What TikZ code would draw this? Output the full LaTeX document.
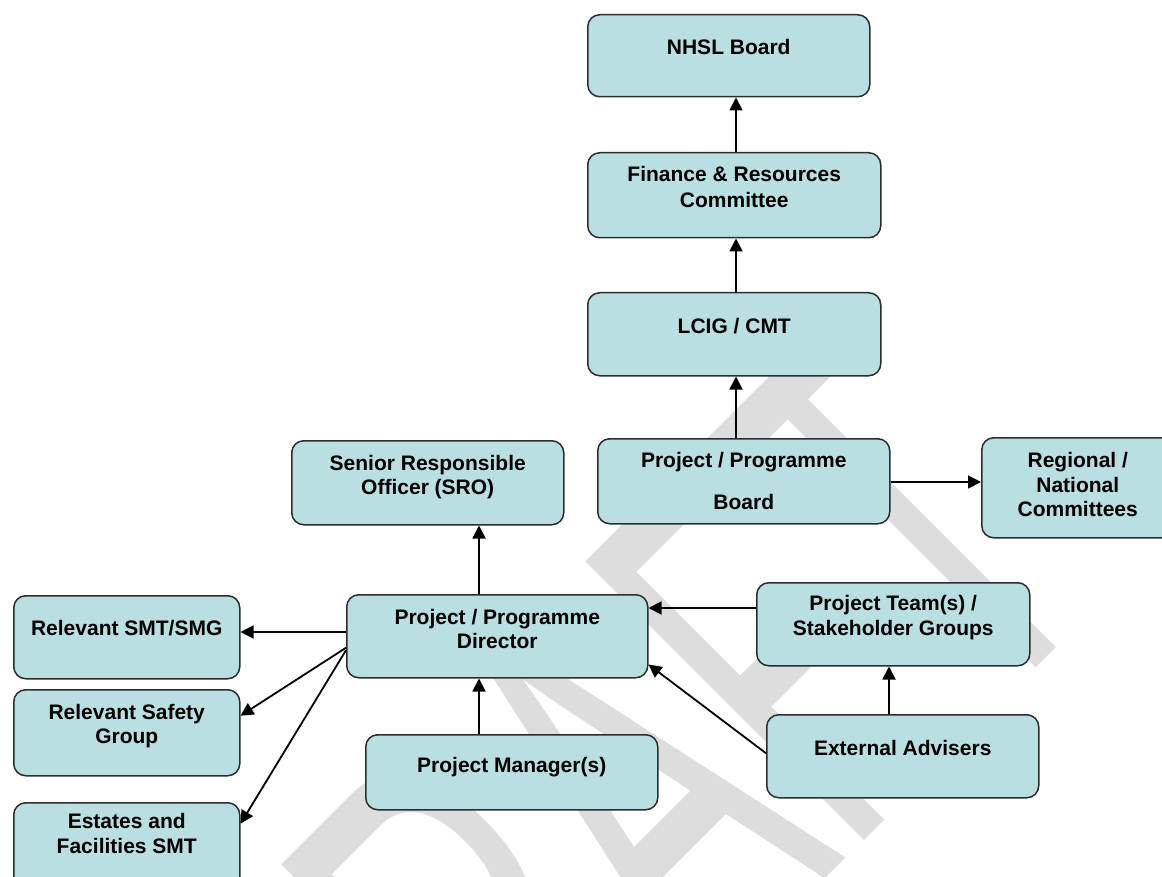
\documentclass[tikz,border=0pt]{standalone}
\usepackage{fontspec}
\setmainfont{Liberation Sans}
\usepackage{graphicx}
\usetikzlibrary{arrows.meta}

\definecolor{boxfill}{RGB}{186,223,226}
\definecolor{boxline}{RGB}{45,45,45}
\definecolor{wmark}{RGB}{221,221,221}

% text block of a card: width, height, space above the first line, lines
\newcommand{\cardtext}[4]{\parbox[c][#2][t]{#1}{\centering\vspace*{#3}#4\par}}

\begin{document}
\begin{tikzpicture}[x=1pt,y=-1pt,
  card/.style={draw=boxline, fill=boxfill, line width=1.5pt, rounded corners=12pt,
    inner sep=0pt, anchor=north west,
    font=\fontsize{21pt}{24.5pt}\bfseries\selectfont},
  link/.style={draw=black, line width=1.8pt, -{Triangle[length=13pt,width=13pt]}}]

\useasboundingbox (0,0) rectangle (1162,877);
\begin{scope}
\clip (0,0) rectangle (1162,877);
\fill[white] (0,0) rectangle (1162,877);

% background watermark
\node[anchor=base west, inner sep=0pt, rotate=45, text=wmark,
      font=\fontsize{573pt}{573pt}\selectfont] (watermark) at (384,1320)
      {\scalebox{0.54}[1]{DRAFT}};

% governance chain
\node[card] (nhsl) at (587,14) {\cardtext{282pt}{82pt}{24.8pt}{NHSL Board}};
\node[card] (fr) at (587,152) {\cardtext{293pt}{85pt}{13.8pt}{Finance \& Resources\\[1.5pt]Committee}};
\node[card] (lcig) at (587,292) {\cardtext{293pt}{83pt}{25.8pt}{LCIG / CMT}};
\node[card] (ppb) at (597,438) {\cardtext{292pt}{85pt}{13.8pt}{Project / Programme\\[17.5pt]Board}};
\node[card] (regional) at (981,437) {\cardtext{192pt}{100pt}{14.8pt}{Regional /\\National\\Committees}};

% project level
\node[card] (sro) at (291,440) {\cardtext{272pt}{84pt}{14.8pt}{Senior Responsible\\[-1pt]Officer (SRO)}};
\node[card] (ppd) at (346,594) {\cardtext{301pt}{83pt}{14.8pt}{Project / Programme\\[-0.5pt]Director}};
\node[card] (pm) at (365,734) {\cardtext{292pt}{75pt}{22.8pt}{Project Manager(s)}};
\node[card] (pt) at (756,582) {\cardtext{273pt}{83pt}{12.8pt}{Project Team(s) /\\[0.5pt]Stakeholder Groups}};
\node[card] (ea) at (766,714) {\cardtext{272pt}{83pt}{25.8pt}{External Advisers}};

% groups reported to by the director
\node[card] (smt) at (13,595) {\cardtext{226pt}{83pt}{24.8pt}{Relevant SMT/SMG}};
\node[card] (safety) at (13,689) {\cardtext{226pt}{86pt}{14.8pt}{Relevant Safety\\[-0.5pt]Group}};
\node[card] (estates) at (13,802) {\cardtext{226pt}{92pt}{10.8pt}{Estates and\\[0.5pt]Facilities SMT}};

% connector columns and rows
\coordinate (colA) at (736,0);
\coordinate (colC) at (479,0);
\coordinate (colE) at (889,0);
\coordinate (rowB) at (0,482);
\coordinate (rowD) at (0,608);
\coordinate (rowF) at (0,632);

\draw[link] (fr.north -| colA) -- (nhsl.south -| colA);
\draw[link] (lcig.north -| colA) -- (fr.south -| colA);
\draw[link] (ppb.north -| colA) -- (lcig.south -| colA);
\draw[link] (ppb.east |- rowB) -- (regional.west |- rowB);
\draw[link] (ppd.north -| colC) -- (sro.south -| colC);
\draw[link] (pm.north -| colC) -- (ppd.south -| colC);
\draw[link] (pt.west |- rowD) -- (ppd.east |- rowD);
\draw[link] (ea.north -| colE) -- (pt.south -| colE);
\draw[link] ([yshift=3pt]ea.west) -- ([yshift=14pt]ppd.south east);
\draw[link] (ppd.west |- rowF) -- (smt.east |- rowF);
\draw[link] ([yshift=-11.5pt]ppd.west) -- ([yshift=17pt]safety.east);
\draw[link] ([yshift=-14pt]ppd.west) -- ([yshift=25pt]estates.east);
\end{scope}
\end{tikzpicture}
\end{document}
